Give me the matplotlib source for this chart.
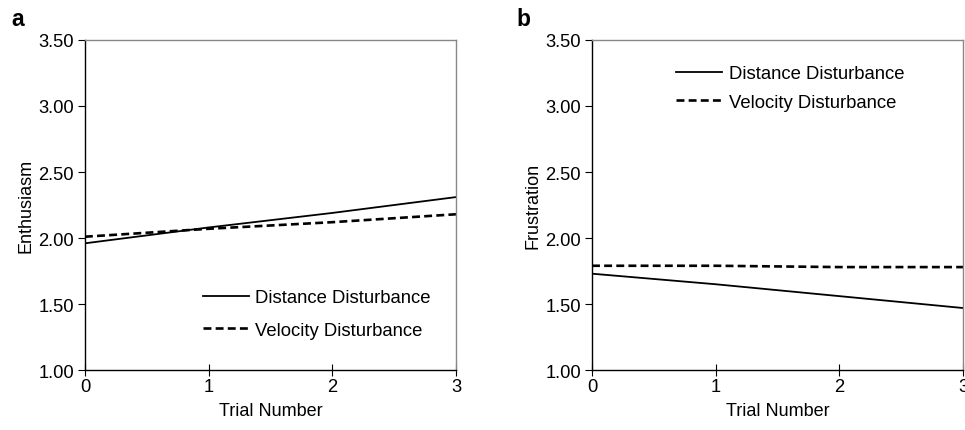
import matplotlib.pyplot as plt
import numpy as np

plt.rcParams['font.family'] = ['Liberation Sans', 'DejaVu Sans']

# data
trials = [0, 1, 2, 3]
enth_distance = [1.96, 2.08, 2.19, 2.31]
enth_velocity = [2.01, 2.07, 2.12, 2.18]
frus_distance = [1.73, 1.65, 1.56, 1.47]
frus_velocity = [1.79, 1.79, 1.78, 1.78]
yticks = [1.00, 1.50, 2.00, 2.50, 3.00, 3.50]

fig = plt.figure(figsize=(9.65, 4.31), dpi=100)
ax1 = fig.add_axes([0.088, 0.139, 0.3845, 0.766])
ax2 = fig.add_axes([0.6135, 0.139, 0.3845, 0.766])

def style_axes(ax, ylabel):
    ax.set_xlim(0, 3)
    ax.set_ylim(1.0, 3.5)
    ax.set_xticks(trials)
    ax.set_yticks(yticks)
    ax.set_yticklabels(["%.2f" % v for v in yticks])
    ax.tick_params(axis='y', direction='out', length=5, labelsize=13.2, pad=3)
    ax.tick_params(axis='x', direction='inout', length=9, labelsize=13.2, pad=1)
    ax.spines['left'].set_color('black')
    ax.spines['bottom'].set_color('black')
    ax.spines['top'].set_color('#888888')
    ax.spines['right'].set_color('#888888')
    for s in ax.spines.values():
        s.set_linewidth(1.0)
    ax.set_xlabel('Trial Number', fontsize=13, labelpad=5)
    ax.set_ylabel(ylabel, fontsize=13, labelpad=3)

ax1.plot(trials, enth_distance, color='black', lw=1.3, label='Distance Disturbance')
ax1.plot(trials, enth_velocity, color='black', lw=1.9, dashes=(3, 1.6), label='Velocity Disturbance')
style_axes(ax1, 'Enthusiasm')
ax1.legend(loc='upper left', bbox_to_anchor=(0.297, 0.268), frameon=False, fontsize=13.3,
           handlelength=2.5, handletextpad=0.35, labelspacing=0.85, borderaxespad=0)

ax2.plot(trials, frus_distance, color='black', lw=1.3, label='Distance Disturbance')
ax2.plot(trials, frus_velocity, color='black', lw=1.9, dashes=(3, 1.6), label='Velocity Disturbance')
style_axes(ax2, 'Frustration')
ax2.legend(loc='upper left', bbox_to_anchor=(0.207, 0.945), frameon=False, fontsize=13.3,
           handlelength=2.5, handletextpad=0.35, labelspacing=0.6, borderaxespad=0)

fig.text(0.012, 0.955, 'a', fontsize=16.5, fontweight='bold', va='center')
fig.text(0.535, 0.955, 'b', fontsize=16.5, fontweight='bold', va='center')

fig.savefig('out.png', dpi=100)
